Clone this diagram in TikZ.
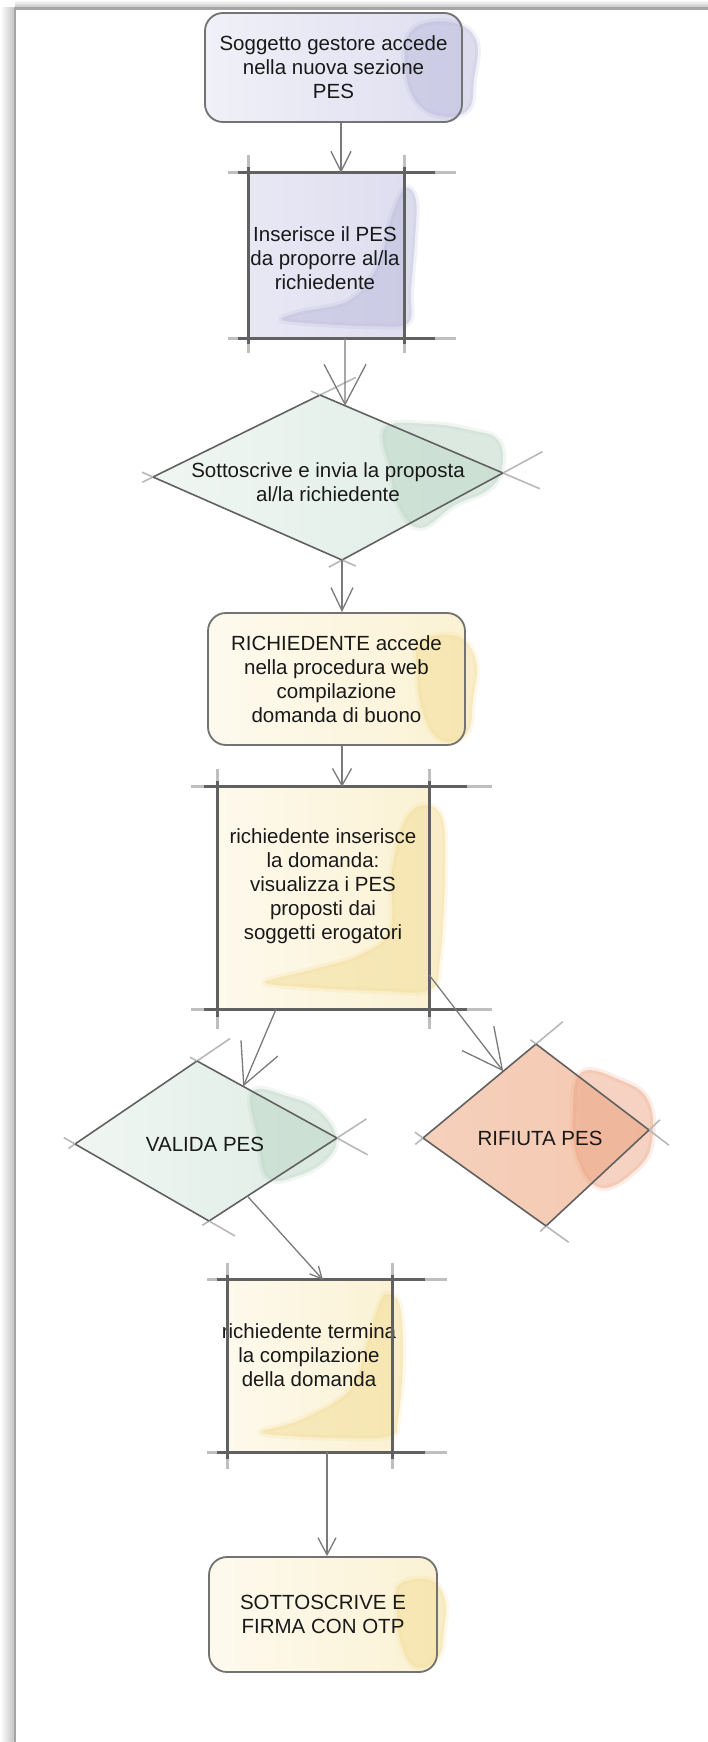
\documentclass[tikz,border=0pt]{standalone}
\usepackage{fontspec}
\setmainfont{Liberation Sans}
\usetikzlibrary{calc,arrows.meta}
\pgfdeclarelayer{bg}
\pgfsetlayers{bg,main}
\definecolor{lavBase}{RGB}{222,222,240}
\definecolor{lavDark}{RGB}{186,186,220}
\definecolor{grnBase}{RGB}{222,236,228}
\definecolor{grnDark}{RGB}{186,212,196}
\definecolor{yelBase}{RGB}{251,242,212}
\definecolor{yelDark}{RGB}{243,220,148}
\definecolor{salBase}{RGB}{244,200,176}
\definecolor{salDark}{RGB}{236,166,134}
\newcommand\skl[4]{%
  \draw[dfade] ($(#1)!-#3pt!(#2)$) -- (#1);
  \draw[dfade] (#2) -- ($(#2)!-#4pt!(#1)$);
  \draw[dline] (#1) -- (#2);}
\newcommand\xbox[5]{%
  \draw[bfade] ($(#1.north west)+(-#2,0)$) -- ($(#1.north east)+(#3,0)$);
  \draw[bline] ($(#1.north west)+(-0.5*#2,0)$) -- ($(#1.north east)+(0.6*#3,0)$);
  \draw[bfade] ($(#1.south west)+(-#2,0)$) -- ($(#1.south east)+(#3,0)$);
  \draw[bline] ($(#1.south west)+(-0.5*#2,0)$) -- ($(#1.south east)+(0.6*#3,0)$);
  \draw[bfade] ($(#1.north west)+(0,-#4)$) -- ($(#1.south west)+(0,#5)$);
  \draw[bline] ($(#1.north west)+(0,-0.3*#4)$) -- ($(#1.south west)+(0,0.4*#5)$);
  \draw[bfade] ($(#1.north east)+(0,-#4)$) -- ($(#1.south east)+(0,#5)$);
  \draw[bline] ($(#1.north east)+(0,-0.3*#4)$) -- ($(#1.south east)+(0,0.4*#5)$);}
\begin{document}
\begin{tikzpicture}[x=1pt,y=-1pt,
  txt/.style={font=\fontsize{20.5pt}{24pt}\selectfont, align=center, text=black!90, inner sep=2pt},
  rbox/.style={txt, draw=black!55, line width=1.8pt, rounded corners=18pt},
  sqbox/.style={inner sep=0pt},
  bline/.style={draw=black!62, line width=3pt},
  bfade/.style={draw=black!25, line width=3pt},
  dline/.style={draw=black!62, line width=1.6pt},
  dfade/.style={draw=black!28, line width=1.6pt},
  arr/.style={draw=black!52, line width=1.3pt},
  blob/.style={opacity=0.5, draw, line width=6pt, draw opacity=0.2}]
\useasboundingbox (0,0) rectangle (708,1742);
% window frame
\shade[top color=white, bottom color=black!22] (15,0) rectangle (708,7);
\shade[left color=white, right color=black!22] (0,8) rectangle (13.5,1742);
\draw[black!35, line width=2.6pt] (15,1742) -- (15,8.5) -- (708,8.5);

% nodes
\node[rbox, minimum width=257pt, minimum height=109pt] (n1) at (333.5,67.5) {Soggetto gestore accede\\nella nuova sezione\\PES};
\node[sqbox, minimum width=155pt, minimum height=165pt] (n2) at (326.5,255.5) {};
\node[txt] (n2t) at (325,258) {Inserisce il PES\\da proporre al/la\\richiedente};
\coordinate (d3L) at (153,477);
\coordinate (d3T) at (320,395);
\coordinate (d3R) at (503,473);
\coordinate (d3B) at (342,560);
\node[txt] (n3) at (328,482) {Sottoscrive e invia la proposta\\al/la richiedente};
\node[rbox, minimum width=257pt, minimum height=132pt] (n4) at (336.5,679) {RICHIEDENTE accede\\nella procedura web\\compilazione\\domanda di buono};
\node[sqbox, minimum width=211pt, minimum height=222pt] (n5) at (323.5,898) {};
\node[txt] (n5t) at (323,886) {richiedente inserisce\\la domanda:\\visualizza i PES\\proposti dai\\soggetti erogatori};
\coordinate (dVL) at (75,1144);
\coordinate (dVT) at (197,1061);
\coordinate (dVR) at (337,1138);
\coordinate (dVB) at (209,1221);
\node[txt] (nV) at (205,1144) {VALIDA PES};
\coordinate (dRL) at (423,1138);
\coordinate (dRT) at (536,1044);
\coordinate (dRR) at (649,1130);
\coordinate (dRB) at (546,1226);
\node[txt] (nR) at (540,1138) {RIFIUTA PES};
\node[sqbox, minimum width=164pt, minimum height=172pt] (n7) at (310,1366) {};
\node[txt] (n7t) at (309,1355) {richiedente termina\\la compilazione\\della domanda};
\node[rbox, minimum width=228pt, minimum height=115pt] (n8) at (323,1614.5) {SOTTOSCRIVE E\\FIRMA CON OTP};

% fills and blobs
\begin{pgfonlayer}{bg}
  \shade[left color=lavBase!45!white, right color=lavBase] (n1.north west) [rounded corners=18pt] rectangle (n1.south east);
  \fill[lavDark, blob] plot[smooth cycle, tension=0.7] coordinates {(412,30) (450,22) (476,40) (474,80) (468,110) (440,116) (415,100) (405,65)};
  \shade[left color=lavBase!70!white, right color=lavBase] (n2.north west) rectangle (n2.south east);
  \fill[lavDark, blob] plot[smooth cycle, tension=0.6] coordinates {(405,188) (416,200) (415,240) (411,290) (408,323) (370,326) (320,324) (282,320) (300,312) (350,300) (378,265) (392,215)};
  \shade[left color=grnBase!45!white, right color=grnBase] (d3L) -- (d3T) -- (d3R) -- (d3B) -- cycle;
  \fill[grnDark, blob] plot[smooth cycle, tension=0.7] coordinates {(385,428) (430,424) (470,430) (498,440) (502,468) (488,490) (455,505) (420,528) (398,505) (390,470)};
  \shade[left color=yelBase!40!white, right color=yelBase] (n4.north west) [rounded corners=18pt] rectangle (n4.south east);
  \fill[yelDark, blob] plot[smooth cycle, tension=0.7] coordinates {(420,642) (456,636) (476,660) (473,700) (467,733) (440,740) (422,710) (417,670)};
  \shade[left color=yelBase!45!white, right color=yelBase] (n5.north west) rectangle (n5.south east);
  \fill[yelDark, blob] plot[smooth cycle, tension=0.6] coordinates {(425,805) (443,820) (445,880) (440,960) (430,990) (380,991) (300,987) (265,982) (310,970) (360,955) (390,930) (392,870) (405,820)};
  \shade[left color=grnBase!45!white, right color=grnBase] (dVL) -- (dVT) -- (dVR) -- (dVB) -- cycle;
  \fill[grnDark, blob] plot[smooth cycle, tension=0.7] coordinates {(252,1092) (290,1097) (318,1110) (336,1136) (328,1158) (300,1175) (268,1178) (258,1140)};
  \shade[left color=salBase!85!white, right color=salBase] (dRL) -- (dRT) -- (dRR) -- (dRB) -- cycle;
  \fill[salDark, blob] plot[smooth cycle, tension=0.7] coordinates {(582,1072) (620,1080) (648,1100) (652,1140) (638,1168) (602,1188) (578,1160) (573,1110)};
  \shade[left color=yelBase!45!white, right color=yelBase] (n7.north west) rectangle (n7.south east);
  \fill[yelDark, blob] plot[smooth cycle, tension=0.6] coordinates {(388,1294) (400,1306) (403,1360) (398,1420) (390,1436) (340,1438) (262,1433) (300,1420) (350,1390) (368,1340) (380,1302)};
  \shade[left color=yelBase!40!white, right color=yelBase] (n8.north west) [rounded corners=18pt] rectangle (n8.south east);
  \fill[yelDark, blob] plot[smooth cycle, tension=0.7] coordinates {(400,1584) (430,1580) (445,1600) (444,1630) (438,1658) (415,1667) (400,1640) (397,1605)};
\end{pgfonlayer}

% box lines
\xbox{n2}{21}{52}{18}{15}
\xbox{n5}{27}{63}{18}{20}
\xbox{n7}{21}{55}{17}{17}
% diamonds
\skl{d3L}{d3T}{12}{40}\skl{d3T}{d3R}{10}{40}\skl{d3R}{d3B}{45}{15}\skl{d3B}{d3L}{15}{12}
\skl{dVL}{dVT}{8}{40}\skl{dVT}{dVR}{8}{35}\skl{dVR}{dVB}{35}{8}\skl{dVB}{dVL}{30}{13}
\skl{dRL}{dRT}{10}{35}\skl{dRT}{dRR}{7}{25}\skl{dRR}{dRB}{15}{8}\skl{dRB}{dRL}{28}{10}

% connectors
\draw[arr, -{Straight Barb[length=20pt,width=20pt]}] ([xshift=7.5pt]n1.south) -- ([xshift=14.5pt]n2.north);
\draw[arr, -{Straight Barb[length=40pt,width=42pt]}] ([xshift=18.5pt]n2.south) -- ($(d3T)!0.137!(d3R)$);
\draw[arr, -{Straight Barb[length=23pt,width=22pt]}] (d3B) -- ([xshift=5.5pt]n4.north);
\draw[arr, -{Straight Barb[length=17pt,width=19pt]}] ([xshift=5.5pt]n4.south) -- ([xshift=18.5pt]n5.north);
\draw[arr, -{Straight Barb[length=40pt,width=40pt]}] ([xshift=-47.5pt]n5.south) -- ($(dVT)!0.33!(dVR)$);
\draw[arr, -{Straight Barb[length=40pt,width=40pt]}] ($(n5.east)+(0,77)$) -- ($(dRL)!0.71!(dRT)$);
\draw[arr, -{Straight Barb[length=12pt,width=12pt]}] ($(dVR)!0.70!(dVB)$) -- ([xshift=13pt]n7.north);
\draw[arr, -{Straight Barb[length=17pt,width=18pt]}] ([xshift=17pt]n7.south) -- ([xshift=4pt]n8.north);
\end{tikzpicture}
\end{document}
